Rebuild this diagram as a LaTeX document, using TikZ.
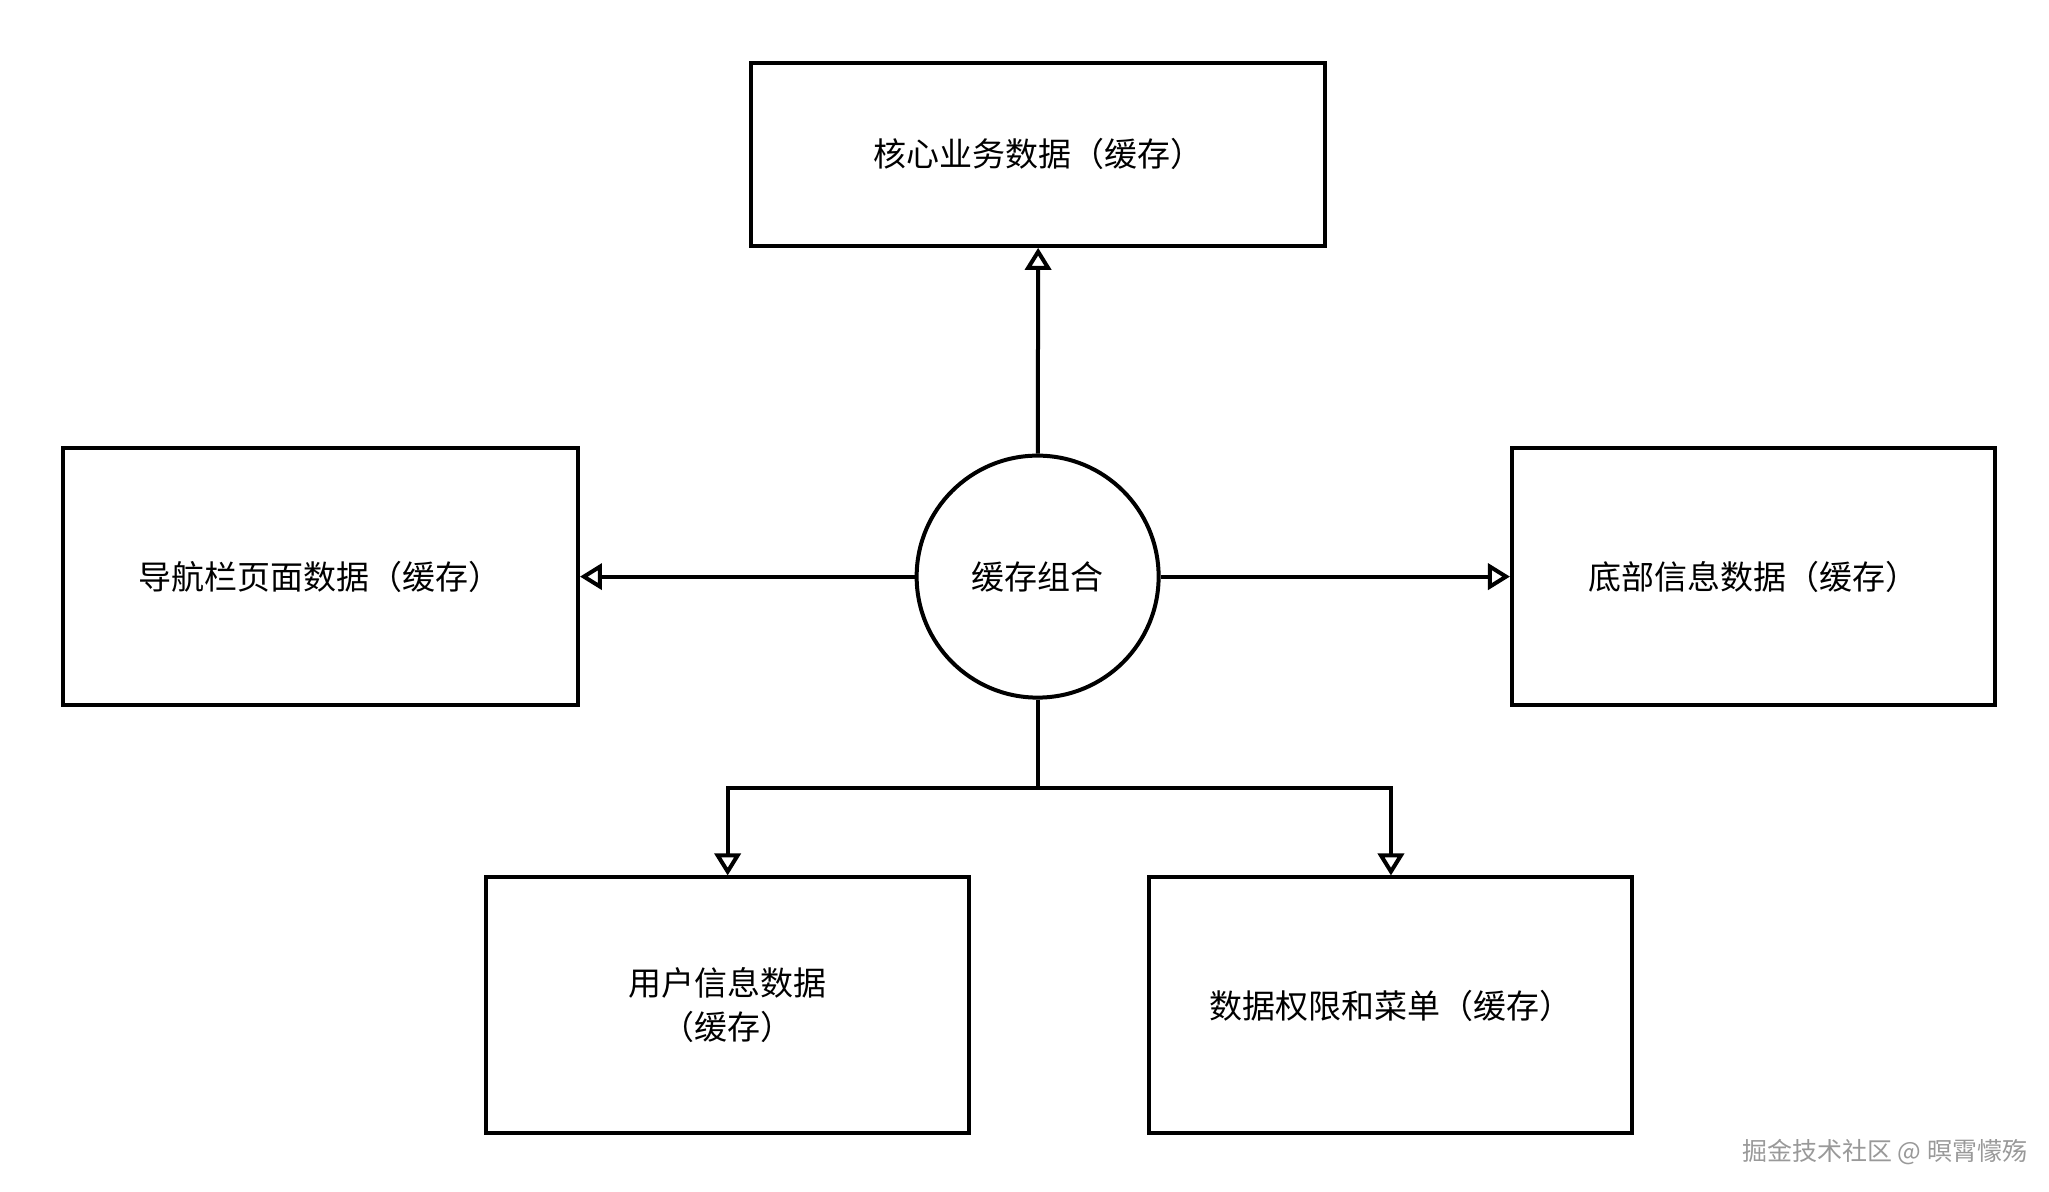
\documentclass[tikz,border=0pt]{standalone}
\usepackage{fontspec}
\setmainfont{Noto Sans CJK SC}
\usetikzlibrary{arrows.meta}
\begin{document}
\begin{tikzpicture}[x=1.3135pt,y=-1.3135pt,
  box/.style={draw,line width=4pt,align=center,font=\fontsize{33}{44}\selectfont,inner sep=0pt},
  conn/.style={line width=4pt,-{Triangle[length=22pt,width=26pt,open=false]}}]
\useasboundingbox (0,0) rectangle (1560,907);
\node[box,minimum width=574pt,minimum height=183pt] (top) at (790.5,117.5) {核心业务数据（缓存）};
\node[box,minimum width=515pt,minimum height=257pt] (left) at (244,439) {导航栏页面数据（缓存）};
\node[box,minimum width=483pt,minimum height=257pt] (right) at (1335,439) {底部信息数据（缓存）};
\node[box,circle,minimum size=242pt] (c) at (790,439) {缓存组合};
\node[box,minimum width=483pt,minimum height=256pt] (bl) at (554,765.5) {用户信息数据\\（缓存）};
\node[box,minimum width=483pt,minimum height=256pt] (br) at (1059,765.5) {数据权限和菜单（缓存）};
\coordinate (j) at (790,600);
\draw[conn] (c) -- (top);
\draw[conn] (c) -- (left);
\draw[conn] (c) -- (right);
\draw[line width=4pt] (c.south) -- (j);
\draw[conn] (j) -| (bl.north);
\draw[conn] (j) -| (br.north);
\node[anchor=east,text=gray!80,font=\fontsize{25}{30}\selectfont] (wm) at (1546,877) {掘金技术社区 @ 暝霄懞殇};
\end{tikzpicture}
\end{document}
